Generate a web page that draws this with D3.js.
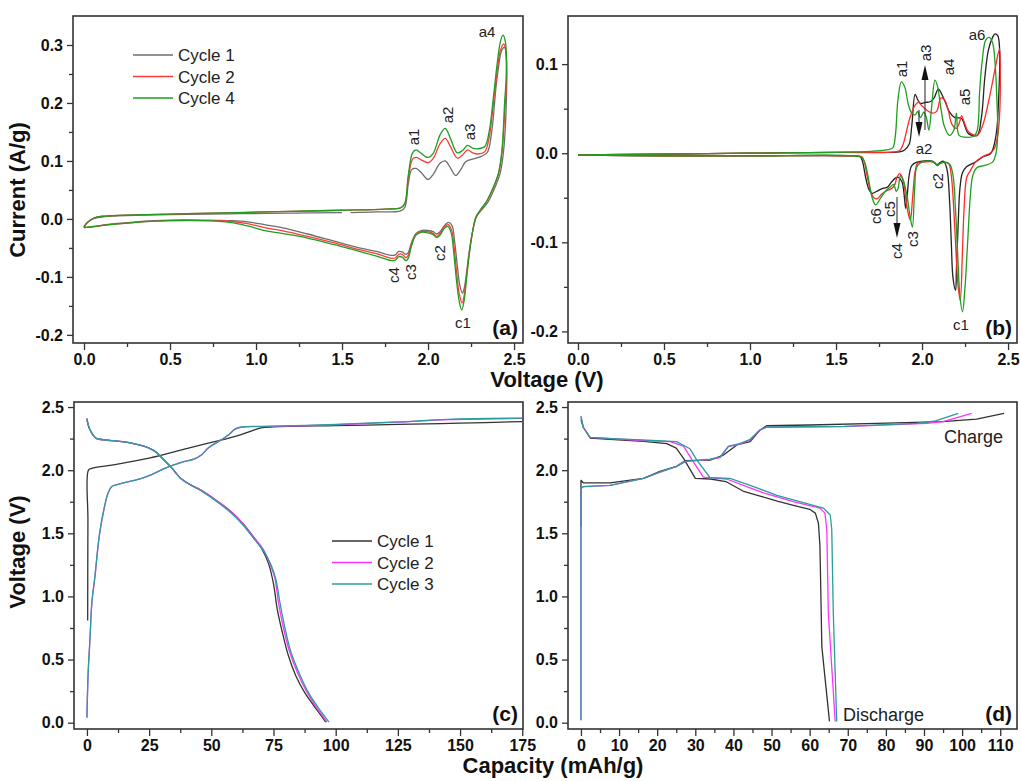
<!DOCTYPE html>
<html>
<head>
<meta charset="utf-8">
<script src="https://cdn.jsdelivr.net/npm/d3@7"></script>
<style>
  body { margin: 0; background: #fff; }
  text { font-family: Arial, "Liberation Sans", sans-serif; }
</style>
</head>
<body>
<div id="container"></div>
<script>
// ---- data ----
// (a) CV, first cycles  [voltage V, current A/g]
var cvA_cycle1 = [[1.55,0.011],[1.7,0.012],[1.84,0.014],[1.865,0.02],[1.885,0.06],[1.905,0.085],[1.93,0.087],[1.96,0.08],[2.0,0.068],[2.03,0.077],[2.07,0.096],[2.10,0.1],[2.13,0.088],[2.16,0.075],[2.19,0.085],[2.22,0.099],[2.27,0.104],[2.31,0.108],[2.345,0.115],[2.37,0.15],[2.40,0.24],[2.43,0.292],[2.445,0.296],[2.455,0.28],[2.455,0.2],[2.44,0.12],[2.42,0.08],[2.39,0.055],[2.35,0.03],[2.31,0.015],[2.28,0.003],[2.26,-0.02],[2.24,-0.055],[2.225,-0.09],[2.21,-0.12],[2.2,-0.128],[2.185,-0.115],[2.17,-0.08],[2.155,-0.04],[2.14,-0.012],[2.12,-0.006],[2.1,-0.01],[2.07,-0.022],[2.05,-0.026],[2.03,-0.022],[2.0,-0.02],[1.96,-0.02],[1.93,-0.025],[1.905,-0.04],[1.885,-0.058],[1.872,-0.061],[1.85,-0.057],[1.83,-0.056],[1.81,-0.062],[1.79,-0.063],[1.7,-0.056],[1.6,-0.05],[1.45,-0.038],[1.3,-0.026],[1.15,-0.015],[1.05,-0.01],[0.95,-0.005],[0.85,-0.003],[0.7,-0.002],[0.5,-0.002],[0.3,-0.005],[0.15,-0.009],[0.0,-0.014],[0.02,-0.006],[0.06,0.001],[0.12,0.004],[0.3,0.006],[0.6,0.008],[0.9,0.009],[1.2,0.010],[1.5,0.011]];
var cvA_cycle2 = [[0.0,-0.015],[0.02,-0.006],[0.06,0.002],[0.12,0.005],[0.3,0.007],[0.6,0.009],[0.9,0.011],[1.2,0.013],[1.5,0.015],[1.75,0.017],[1.84,0.019],[1.865,0.026],[1.885,0.07],[1.91,0.103],[1.93,0.106],[1.96,0.102],[2.0,0.097],[2.03,0.104],[2.07,0.13],[2.10,0.139],[2.13,0.125],[2.17,0.105],[2.2,0.11],[2.23,0.119],[2.26,0.114],[2.29,0.112],[2.33,0.116],[2.355,0.14],[2.38,0.2],[2.40,0.25],[2.42,0.29],[2.44,0.302],[2.452,0.29],[2.456,0.24],[2.447,0.19],[2.43,0.115],[2.41,0.078],[2.38,0.054],[2.34,0.03],[2.31,0.017],[2.28,0.004],[2.26,-0.02],[2.24,-0.058],[2.225,-0.095],[2.21,-0.132],[2.198,-0.145],[2.182,-0.13],[2.167,-0.095],[2.152,-0.05],[2.137,-0.02],[2.117,-0.01],[2.097,-0.013],[2.07,-0.025],[2.05,-0.03],[2.03,-0.025],[2.0,-0.022],[1.96,-0.022],[1.93,-0.027],[1.905,-0.043],[1.885,-0.063],[1.872,-0.067],[1.85,-0.061],[1.83,-0.061],[1.81,-0.067],[1.79,-0.068],[1.7,-0.06],[1.6,-0.053],[1.45,-0.041],[1.3,-0.03],[1.15,-0.02],[1.05,-0.015],[0.95,-0.008],[0.85,-0.004],[0.7,-0.003],[0.5,-0.003],[0.3,-0.006],[0.15,-0.01],[0.0,-0.015]];
var cvA_cycle4 = [[0.0,-0.015],[0.02,-0.006],[0.06,0.002],[0.12,0.005],[0.3,0.007],[0.6,0.009],[0.9,0.011],[1.2,0.013],[1.5,0.015],[1.75,0.017],[1.84,0.019],[1.865,0.027],[1.885,0.075],[1.91,0.114],[1.93,0.119],[1.96,0.113],[2.0,0.106],[2.03,0.113],[2.07,0.145],[2.10,0.156],[2.13,0.139],[2.17,0.114],[2.2,0.118],[2.23,0.127],[2.26,0.122],[2.29,0.121],[2.33,0.125],[2.355,0.15],[2.38,0.21],[2.40,0.263],[2.42,0.305],[2.435,0.317],[2.45,0.305],[2.455,0.25],[2.445,0.2],[2.43,0.12],[2.41,0.08],[2.38,0.055],[2.34,0.03],[2.31,0.018],[2.28,0.004],[2.26,-0.02],[2.24,-0.06],[2.225,-0.1],[2.21,-0.14],[2.196,-0.157],[2.18,-0.14],[2.165,-0.105],[2.15,-0.06],[2.135,-0.025],[2.115,-0.013],[2.095,-0.016],[2.07,-0.028],[2.05,-0.032],[2.03,-0.027],[2.0,-0.024],[1.96,-0.023],[1.93,-0.028],[1.905,-0.045],[1.885,-0.068],[1.872,-0.072],[1.85,-0.066],[1.83,-0.065],[1.81,-0.071],[1.79,-0.072],[1.7,-0.064],[1.6,-0.056],[1.45,-0.044],[1.3,-0.033],[1.15,-0.025],[1.05,-0.02],[0.95,-0.012],[0.85,-0.006],[0.7,-0.003],[0.5,-0.003],[0.3,-0.006],[0.15,-0.01],[0.0,-0.015]];

// (b) CV, second electrode
var cvB_cycle1 = [[0.0,-0.002],[0.5,-0.001],[1.0,0.0],[1.5,0.001],[1.8,0.001],[1.87,0.0015],[1.9,0.004],[1.925,0.01],[1.94,0.03],[1.96,0.066],[1.975,0.06],[1.99,0.056],[2.02,0.057],[2.05,0.058],[2.07,0.062],[2.095,0.072],[2.12,0.064],[2.14,0.055],[2.16,0.046],[2.19,0.04],[2.23,0.039],[2.25,0.03],[2.27,0.022],[2.32,0.02],[2.345,0.04],[2.365,0.085],[2.386,0.116],[2.41,0.13],[2.424,0.134],[2.44,0.132],[2.45,0.12],[2.445,0.06],[2.43,0.02],[2.4,0.0],[2.356,-0.004],[2.31,-0.01],[2.26,-0.015],[2.235,-0.022],[2.22,-0.04],[2.21,-0.08],[2.2,-0.13],[2.195,-0.154],[2.18,-0.14],[2.17,-0.1],[2.16,-0.053],[2.145,-0.018],[2.125,-0.009],[2.1,-0.011],[2.085,-0.013],[2.06,-0.009],[1.97,-0.01],[1.94,-0.014],[1.925,-0.025],[1.915,-0.045],[1.905,-0.062],[1.895,-0.045],[1.885,-0.033],[1.862,-0.027],[1.845,-0.028],[1.82,-0.033],[1.8,-0.038],[1.765,-0.04],[1.735,-0.043],[1.71,-0.045],[1.69,-0.04],[1.67,-0.025],[1.655,-0.01],[1.64,-0.004],[1.6,-0.003],[1.0,-0.003],[0.5,-0.003],[0.0,-0.002]];
var cvB_cycle2 = [[0.0,-0.002],[0.5,-0.001],[1.0,0.0],[1.5,0.001],[1.8,0.001],[1.87,0.003],[1.89,0.01],[1.91,0.025],[1.93,0.04],[1.96,0.054],[1.98,0.057],[2.0,0.053],[2.03,0.048],[2.06,0.045],[2.085,0.047],[2.11,0.062],[2.13,0.06],[2.15,0.05],[2.175,0.032],[2.2,0.028],[2.215,0.033],[2.23,0.042],[2.245,0.035],[2.27,0.024],[2.32,0.02],[2.35,0.03],[2.38,0.052],[2.41,0.08],[2.43,0.1],[2.45,0.117],[2.455,0.09],[2.45,0.04],[2.44,0.02],[2.42,0.005],[2.395,0.0],[2.36,-0.003],[2.31,-0.01],[2.28,-0.02],[2.26,-0.027],[2.245,-0.06],[2.235,-0.11],[2.222,-0.165],[2.21,-0.15],[2.2,-0.12],[2.185,-0.065],[2.17,-0.025],[2.155,-0.012],[2.13,-0.01],[2.1,-0.012],[2.09,-0.014],[2.07,-0.01],[2.0,-0.01],[1.975,-0.011],[1.96,-0.02],[1.945,-0.05],[1.932,-0.075],[1.92,-0.068],[1.905,-0.05],[1.89,-0.03],[1.87,-0.023],[1.855,-0.027],[1.84,-0.036],[1.82,-0.04],[1.795,-0.042],[1.765,-0.046],[1.74,-0.051],[1.72,-0.05],[1.7,-0.042],[1.68,-0.025],[1.665,-0.01],[1.65,-0.004],[1.6,-0.003],[1.0,-0.003],[0.5,-0.003],[0.0,-0.002]];
var cvB_cycle4 = [[0.0,-0.002],[0.5,-0.001],[1.0,0.0],[1.5,0.001],[1.7,0.002],[1.8,0.004],[1.83,0.006],[1.845,0.02],[1.86,0.06],[1.88,0.08],[1.9,0.074],[1.92,0.055],[1.94,0.045],[1.96,0.043],[1.975,0.047],[1.99,0.04],[2.01,0.046],[2.025,0.04],[2.04,0.026],[2.055,0.05],[2.075,0.082],[2.09,0.075],[2.11,0.05],[2.13,0.03],[2.16,0.02],[2.185,0.026],[2.2,0.045],[2.215,0.02],[2.25,0.018],[2.3,0.019],[2.32,0.025],[2.335,0.07],[2.35,0.104],[2.37,0.127],[2.39,0.13],[2.41,0.124],[2.425,0.1],[2.435,0.06],[2.44,0.022],[2.43,0.0],[2.41,-0.01],[2.36,-0.014],[2.32,-0.016],[2.295,-0.025],[2.28,-0.05],[2.265,-0.1],[2.25,-0.15],[2.235,-0.178],[2.22,-0.16],[2.21,-0.125],[2.195,-0.065],[2.18,-0.025],[2.16,-0.012],[2.13,-0.01],[2.1,-0.012],[2.09,-0.014],[2.075,-0.011],[2.05,-0.009],[2.0,-0.01],[1.97,-0.015],[1.957,-0.04],[1.944,-0.083],[1.93,-0.07],[1.91,-0.045],[1.89,-0.03],[1.875,-0.025],[1.86,-0.04],[1.85,-0.043],[1.835,-0.035],[1.815,-0.038],[1.79,-0.042],[1.76,-0.05],[1.73,-0.058],[1.71,-0.05],[1.69,-0.03],[1.67,-0.012],[1.65,-0.005],[1.6,-0.003],[1.0,-0.003],[0.5,-0.003],[0.0,-0.002]];

// (c) charge / discharge  [capacity mAh/g, voltage V]
var gcC_cycle1_charge = [[0.3,0.81],[0.4,1.6],[0.6,2.0],[2,2.015],[10,2.04],[25,2.095],[40,2.17],[50,2.22],[60,2.27],[66,2.31],[70,2.335],[75,2.343],[100,2.353],[125,2.362],[150,2.372],[175,2.385]];
var gcC_cycle1_discharge = [[0,2.4],[1,2.33],[3.5,2.255],[5,2.245],[15,2.225],[20,2.205],[25,2.175],[28,2.14],[31,2.08],[34,2.02],[38,1.93],[42,1.88],[46,1.84],[52,1.76],[58,1.67],[63,1.57],[67,1.47],[70.5,1.37],[73,1.26],[75,1.1],[76.5,0.9],[78.5,0.72],[81,0.53],[84,0.37],[87.5,0.24],[91,0.14],[94,0.06],[96,0.005]];
var gcC_cycle2_charge = [[0,0.04],[0.5,0.4],[1.2,0.65],[2,0.95],[3.2,1.15],[5,1.48],[7,1.7],[8.5,1.82],[10,1.87],[12,1.885],[18,1.915],[22,1.935],[26,1.965],[32,2.02],[38,2.062],[43,2.088],[46,2.12],[49,2.18],[54,2.24],[57,2.28],[59.5,2.325],[62,2.34],[70,2.345],[100,2.36],[125,2.38],[145,2.4],[175,2.41]];
var gcC_cycle2_discharge = [[0,2.41],[1,2.33],[3.5,2.255],[5,2.245],[15,2.225],[20,2.205],[25,2.175],[28,2.14],[31,2.08],[34,2.02],[38,1.93],[42,1.88],[46,1.84],[52,1.76],[58,1.67],[63,1.57],[67,1.47],[71,1.37],[73.5,1.26],[75.5,1.15],[77,0.95],[79,0.75],[81.5,0.56],[85,0.38],[88.5,0.24],[92,0.13],[94.5,0.06],[96.5,0.005]];
var gcC_cycle3_charge = [[0,0.04],[0.5,0.4],[1.2,0.66],[2,0.96],[3.2,1.16],[5,1.49],[7,1.71],[8.5,1.82],[10,1.87],[12,1.885],[18,1.915],[22,1.935],[26,1.965],[32,2.02],[38,2.062],[43,2.088],[46,2.12],[49,2.18],[54,2.24],[57,2.28],[59.5,2.325],[62,2.342],[70,2.347],[100,2.362],[125,2.382],[145,2.403],[175,2.412]];
var gcC_cycle3_discharge = [[0,2.41],[1,2.33],[3.5,2.255],[5,2.245],[15,2.225],[20,2.205],[25,2.175],[28,2.14],[31,2.08],[34,2.02],[38,1.93],[42,1.88],[46,1.835],[52,1.755],[58,1.66],[63,1.56],[67,1.46],[71,1.36],[74,1.25],[76,1.13],[77.6,0.95],[79.6,0.75],[82,0.56],[85.6,0.38],[89,0.24],[92.6,0.13],[95.2,0.06],[97.3,0.005]];

// (d) charge / discharge, second electrode
var gcD_cycle1_charge = [[0,1.55],[0,1.92],[0.6,1.9],[7.6,1.9],[16.4,1.935],[20.7,1.99],[25.1,2.03],[27.3,2.075],[33.9,2.08],[37.4,2.12],[40.9,2.2],[44.4,2.226],[47,2.318],[48.7,2.352],[60,2.358],[77.6,2.37],[95,2.384],[103.8,2.405],[111,2.45]];
var gcD_cycle1_discharge = [[0,2.4],[0.6,2.34],[2.4,2.255],[7.6,2.245],[16.4,2.228],[22.5,2.21],[25,2.175],[27,2.09],[30,1.935],[34,1.93],[38,1.91],[42.5,1.835],[47,1.795],[51.5,1.755],[56,1.72],[60,1.69],[61.5,1.66],[62.3,1.58],[62.7,1.4],[63.2,0.6],[65.2,0.01]];
var gcD_cycle2_charge = [[0,0.02],[0,1.85],[0.6,1.87],[7.6,1.88],[16.4,1.935],[20.7,1.985],[25.1,2.03],[27.3,2.068],[33.9,2.085],[36.5,2.1],[38.7,2.186],[41.7,2.207],[44.4,2.24],[47,2.318],[48.7,2.34],[69,2.345],[90.7,2.37],[95,2.384],[102.5,2.45]];
var gcD_cycle2_discharge = [[0,2.42],[0.6,2.34],[2.4,2.26],[8,2.25],[16,2.235],[23.4,2.226],[26.9,2.19],[29,2.09],[32.1,1.945],[38.2,1.93],[43.5,1.87],[47.9,1.82],[55.7,1.75],[62.7,1.70],[64,1.66],[64.5,1.53],[64.9,0.87],[66.7,0.01]];
var gcD_cycle3_charge = [[0,0.02],[0,1.86],[0.6,1.87],[7.6,1.88],[16.4,1.935],[20.7,1.985],[25.1,2.03],[27.3,2.07],[33.9,2.087],[36.5,2.105],[38.7,2.19],[41.7,2.21],[44.4,2.245],[47,2.32],[48.7,2.342],[69,2.347],[88,2.37],[93,2.39],[99,2.45]];
var gcD_cycle3_discharge = [[0,2.43],[0.6,2.34],[2.4,2.26],[8,2.25],[16,2.24],[25.1,2.226],[28.6,2.17],[30.4,2.08],[33.9,1.94],[39.1,1.935],[44.4,1.88],[51.4,1.80],[63.6,1.70],[65.4,1.645],[65.8,1.53],[66.2,0.87],[67.1,0.01]];

// ticks
var cvXTicks = [0, 0.5, 1.0, 1.5, 2.0, 2.5];
var cvAYTicks = [-0.2, -0.1, 0.0, 0.1, 0.2, 0.3];
var cvBYTicks = [-0.2, -0.1, 0.0, 0.1];
var gcCXTicks = [0, 25, 50, 75, 100, 125, 150, 175];
var gcDXTicks = [0, 10, 20, 30, 40, 50, 60, 70, 80, 90, 100, 110];
var gcYTicks = [0.0, 0.5, 1.0, 1.5, 2.0, 2.5];

var legendCV = ["Cycle 1", "Cycle 2", "Cycle 4"];
var legendGC = ["Cycle 1", "Cycle 2", "Cycle 3"];

var cvColors = ["#6e6e6e", "#ff3b3b", "#1f9e1f"];
var cvBColors = ["#222222", "#ff2a2a", "#1f9e1f"];
var gcColors = ["#333333", "#ff33ff", "#2a9d9d"];

var WIDTH = 1020, HEIGHT = 781;

var svg = d3.select('#container').append('svg')
  .attr('width', WIDTH).attr('height', HEIGHT)
  .style('background', '#fff');

var pid = 0;
var drawPanel = function(p) {
  pid++;
  var x = d3.scaleLinear().domain(p.xDomain).range([p.left, p.right]);
  var y = d3.scaleLinear().domain(p.yDomain).range([p.bottom, p.top]);
  var g = svg.append('g');

  g.append('clipPath').attr('id', 'clip' + pid)
    .append('rect').attr('x', p.left).attr('y', p.top)
    .attr('width', p.right - p.left).attr('height', p.bottom - p.top);

  var line = d3.line().x(function(d){return x(d[0]);}).y(function(d){return y(d[1]);})
    .curve(p.smooth ? d3.curveCatmullRom.alpha(0.5) : d3.curveLinear);

  var plot = g.append('g').attr('clip-path', 'url(#clip' + pid + ')');
  p.series.forEach(function(s) {
    plot.append('path').datum(s.data)
      .attr('d', line)
      .attr('fill', 'none')
      .attr('stroke', s.color)
      .attr('stroke-width', 1.3)
      .attr('stroke-linejoin', 'round');
  });

  // minor ticks
  g.append('g').attr('transform', 'translate(0,' + p.bottom + ')')
    .call(d3.axisBottom(x).tickValues(p.xMinor).tickSize(4).tickFormat(''))
    .call(function(a){ a.select('.domain').remove(); a.selectAll('line').attr('stroke', '#333').attr('stroke-width', 1.3); });
  g.append('g').attr('transform', 'translate(' + p.left + ',0)')
    .call(d3.axisLeft(y).tickValues(p.yMinor).tickSize(4).tickFormat(''))
    .call(function(a){ a.select('.domain').remove(); a.selectAll('line').attr('stroke', '#333').attr('stroke-width', 1.3); });

  // major ticks
  g.append('g').attr('transform', 'translate(0,' + p.bottom + ')')
    .call(d3.axisBottom(x).tickValues(p.xTicks).tickSize(7).tickPadding(4).tickFormat(p.xFormat))
    .call(function(a){
      a.select('.domain').remove();
      a.selectAll('line').attr('stroke', '#333').attr('stroke-width', 1.3);
      a.selectAll('text').attr('font-size', '16px').attr('font-weight', 'bold').attr('fill', '#111')
        .attr('font-family', 'Arial, "Liberation Sans", sans-serif');
    });
  g.append('g').attr('transform', 'translate(' + p.left + ',0)')
    .call(d3.axisLeft(y).tickValues(p.yTicks).tickSize(6).tickPadding(4).tickFormat(function(d){ return d.toFixed(1); }))
    .call(function(a){
      a.select('.domain').remove();
      a.selectAll('line').attr('stroke', '#333').attr('stroke-width', 1.3);
      a.selectAll('text').attr('font-size', '16px').attr('font-weight', 'bold').attr('fill', '#111')
        .attr('font-family', 'Arial, "Liberation Sans", sans-serif');
    });

  // frame
  g.append('rect').attr('x', p.left).attr('y', p.top)
    .attr('width', p.right - p.left).attr('height', p.bottom - p.top)
    .attr('fill', 'none').attr('stroke', '#333').attr('stroke-width', 1.6);

  // panel letter
  g.append('text').attr('x', p.right - 5).attr('y', p.bottom - 8)
    .attr('text-anchor', 'end').attr('font-size', '21px').attr('font-weight', 'bold')
    .attr('fill', '#111').text(p.tag);

  return {x: x, y: y, g: g};
};

var minorRange = function(a, b, step) {
  var out = [];
  for (var v = a; v <= b + 1e-9; v += step) out.push(+v.toFixed(4));
  return out;
};

var pa = drawPanel({
  left: 73, right: 523, top: 16, bottom: 343,
  xDomain: [-0.064, 2.552], yDomain: [-0.214, 0.35],
  xTicks: cvXTicks, yTicks: cvAYTicks,
  xMinor: minorRange(0.25, 2.25, 0.5), yMinor: minorRange(-0.15, 0.25, 0.1),
  xFormat: function(d){ return d.toFixed(1); },
  smooth: true, tag: '(a)',
  series: [
    {data: cvA_cycle1, color: cvColors[0]},
    {data: cvA_cycle2, color: cvColors[1]},
    {data: cvA_cycle4, color: cvColors[2]}
  ]
});

var pb = drawPanel({
  left: 568, right: 1017, top: 16, bottom: 343,
  xDomain: [-0.058, 2.552], yDomain: [-0.213, 0.154],
  xTicks: cvXTicks, yTicks: cvBYTicks,
  xMinor: minorRange(0.25, 2.25, 0.5), yMinor: minorRange(-0.15, 0.05, 0.1),
  xFormat: function(d){ return d.toFixed(1); },
  smooth: true, tag: '(b)',
  series: [
    {data: cvB_cycle1, color: cvBColors[0]},
    {data: cvB_cycle2, color: cvBColors[1]},
    {data: cvB_cycle4, color: cvBColors[2]}
  ]
});

var pc = drawPanel({
  left: 74, right: 523, top: 402, bottom: 729,
  xDomain: [-5.2, 175.3], yDomain: [-0.05, 2.54],
  xTicks: gcCXTicks, yTicks: gcYTicks,
  xMinor: minorRange(12.5, 162.5, 25), yMinor: minorRange(0.25, 2.25, 0.5),
  xFormat: function(d){ return d; },
  smooth: true, tag: '(c)',
  series: [
    {data: gcC_cycle1_charge, color: gcColors[0]},
    {data: gcC_cycle1_discharge, color: gcColors[0]},
    {data: gcC_cycle2_charge, color: gcColors[1]},
    {data: gcC_cycle2_discharge, color: gcColors[1]},
    {data: gcC_cycle3_charge, color: gcColors[2]},
    {data: gcC_cycle3_discharge, color: gcColors[2]}
  ]
});

var pd = drawPanel({
  left: 568, right: 1017, top: 402, bottom: 729,
  xDomain: [-3.4, 114.4], yDomain: [-0.05, 2.54],
  xTicks: gcDXTicks, yTicks: gcYTicks,
  xMinor: minorRange(5, 105, 10), yMinor: minorRange(0.25, 2.25, 0.5),
  xFormat: function(d){ return d; },
  smooth: false, tag: '(d)',
  series: [
    {data: gcD_cycle1_charge, color: gcColors[0]},
    {data: gcD_cycle1_discharge, color: gcColors[0]},
    {data: gcD_cycle2_charge, color: gcColors[1]},
    {data: gcD_cycle2_discharge, color: gcColors[1]},
    {data: gcD_cycle3_charge, color: gcColors[2]},
    {data: gcD_cycle3_discharge, color: gcColors[2]}
  ]
});

// legends
var drawLegend = function(g, names, colors, x0, y0) {
  names.forEach(function(n, i) {
    var yy = y0 + i * 21.5;
    g.append('line').attr('x1', x0).attr('x2', x0 + 40).attr('y1', yy).attr('y2', yy)
      .attr('stroke', colors[i]).attr('stroke-width', 1.5);
    g.append('text').attr('x', x0 + 45).attr('y', yy + 6)
      .attr('font-size', '17px').attr('fill', '#222').text(n);
  });
};
drawLegend(pa.g, legendCV, cvColors, 133, 55);
drawLegend(pc.g, legendGC, gcColors, 332, 541);

// peak labels  [text, x, y, rotated]
var addLabel = function(g, t, px, py, rot) {
  g.append('text')
    .attr('transform', 'translate(' + px + ',' + py + ')' + (rot ? ' rotate(-90)' : ''))
    .attr('text-anchor', 'middle').attr('dominant-baseline', 'central')
    .attr('font-size', '15px').attr('fill', '#222').text(t);
};
var labelsA = [['a1',413,137,1],['a2',447,115,1],['a3',469,132,1],['a4',487,31,0],
               ['c4',393,275,1],['c3',410,272,1],['c2',439,253,1],['c1',463,322,0]];
labelsA.forEach(function(l){ addLabel(pa.g, l[0], l[1], l[2], l[3]); });

var labelsB = [['a1',901,69,1],['a3',925,53,1],['a4',948,67,1],['a5',964,97,1],['a6',977,34,0],
               ['a2',924,148,0],['c6',875,216,1],['c5',889,209,1],['c4',896,251,1],
               ['c3',912,239,1],['c2',937,181,1],['c1',961,324,0]];
labelsB.forEach(function(l){ addLabel(pb.g, l[0], l[1], l[2], l[3]); });

// arrows in (b): [x, yFrom, yTip]
var arrowsB = [[925, 130, 65], [919, 110, 137], [897, 197, 238]];
arrowsB.forEach(function(a) {
  var dir = a[2] < a[1] ? 1 : -1;
  pb.g.append('line').attr('x1', a[0]).attr('x2', a[0]).attr('y1', a[1]).attr('y2', a[2] + dir * 10)
    .attr('stroke', '#222').attr('stroke-width', 1);
  pb.g.append('path')
    .attr('d', 'M' + a[0] + ',' + a[2] + ' L' + (a[0] - 3.5) + ',' + (a[2] + dir * 15) +
               ' L' + (a[0] + 3.5) + ',' + (a[2] + dir * 15) + ' Z')
    .attr('fill', '#111');
});

pd.g.append('text').attr('x', 944).attr('y', 443).attr('font-size', '18px').attr('fill', '#222').text('Charge');
pd.g.append('text').attr('x', 843).attr('y', 721).attr('font-size', '18px').attr('fill', '#222').text('Discharge');

// shared axis titles
svg.append('text').attr('x', 547).attr('y', 387).attr('text-anchor', 'middle')
  .attr('font-size', '22px').attr('font-weight', 'bold').attr('fill', '#111').text('Voltage (V)');
svg.append('text').attr('x', 553).attr('y', 773).attr('text-anchor', 'middle')
  .attr('font-size', '22px').attr('font-weight', 'bold').attr('fill', '#111').text('Capacity (mAh/g)');
svg.append('text').attr('transform', 'translate(25,190) rotate(-90)').attr('text-anchor', 'middle')
  .attr('font-size', '22px').attr('font-weight', 'bold').attr('fill', '#111').text('Current (A/g)');
svg.append('text').attr('transform', 'translate(25,552) rotate(-90)').attr('text-anchor', 'middle')
  .attr('font-size', '22px').attr('font-weight', 'bold').attr('fill', '#111').text('Voltage (V)');
</script>
</body>
</html>
